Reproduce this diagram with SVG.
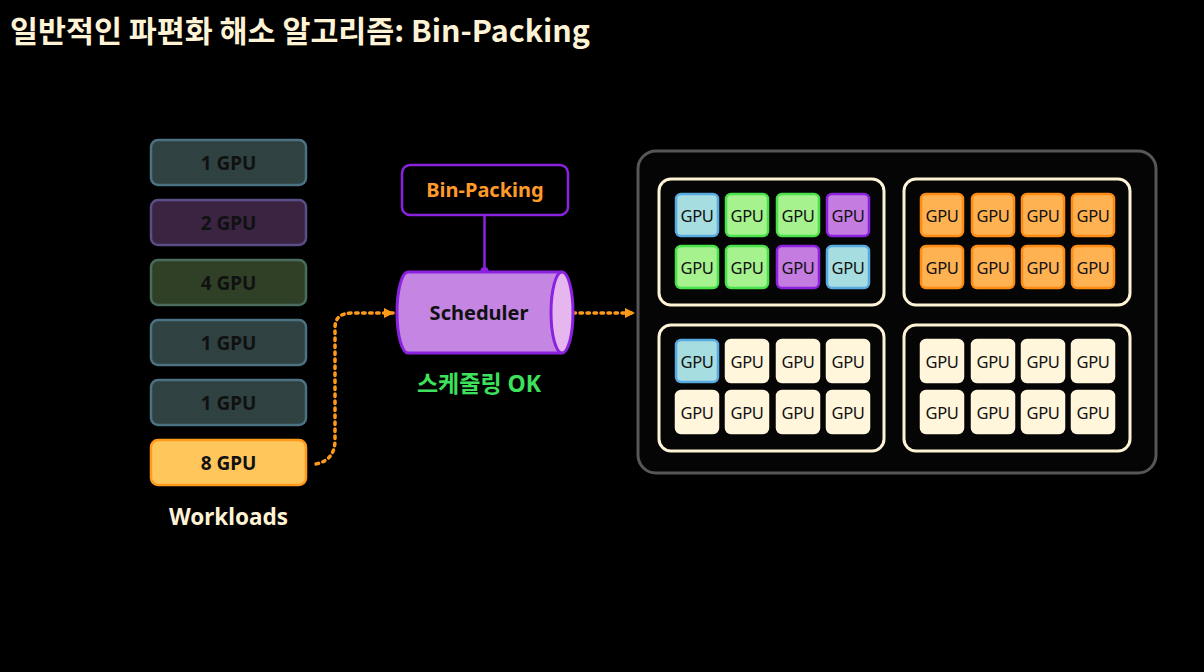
<svg xmlns="http://www.w3.org/2000/svg" width="1204" height="672" viewBox="0 0 1204 672">
<defs>
<style>
.t{font-family:"Noto Sans","Noto Sans CJK KR",sans-serif;font-weight:700;text-anchor:middle;dominant-baseline:central}
.wl{font-size:19px;fill:#111}
.g{font-family:"Noto Sans",sans-serif;font-size:16.5px;fill:#111;text-anchor:middle;dominant-baseline:central;letter-spacing:-0.3px}
.c{stroke-width:2.5}
.blue{fill:#a6dde0;stroke:#5aaae2}
.green{fill:#a6f28e;stroke:#48e24a}
.purple{fill:#c57ce0;stroke:#8a22e0}
.orange{fill:#ffb252;stroke:#ff8c12}
.cream{fill:#fff6dc;stroke:#fff6dc}
.srv{fill:#050505;stroke:#fff3d6;stroke-width:3}
.conn{fill:none;stroke:#ff9a1a;stroke-width:3.5;stroke-dasharray:2.5 4.5;stroke-linecap:round}
</style>
<marker id="ah" viewBox="0 0 10 10" refX="9" refY="5" markerWidth="10" markerHeight="10" markerUnits="userSpaceOnUse" orient="auto">
<path d="M0,0 L10,5 L0,10 z" fill="#ff9a1a"/>
</marker>
</defs>
<rect width="1204" height="672" fill="#000"/>
<text x="10" y="29" font-family="'Noto Sans CJK KR','Noto Sans',sans-serif" font-weight="700" font-size="30" fill="#fff3d6" dominant-baseline="central" textLength="580" lengthAdjust="spacingAndGlyphs">일반적인 파편화 해소 알고리즘: Bin-Packing</text>

<g id="workloads">
<g id="w1"><rect x="151" y="140" width="155" height="45" rx="7" fill="#2f4141" stroke="#4b7282" stroke-width="2.5"/><text class="t wl" x="228.5" y="162.5">1 GPU</text></g>
<g id="w2"><rect x="151" y="200" width="155" height="45" rx="7" fill="#3a2442" stroke="#5a4e86" stroke-width="2.5"/><text class="t wl" x="228.5" y="222.5">2 GPU</text></g>
<g id="w3"><rect x="151" y="260" width="155" height="45" rx="7" fill="#2f4026" stroke="#4a6c5c" stroke-width="2.5"/><text class="t wl" x="228.5" y="282.5">4 GPU</text></g>
<g id="w4"><rect x="151" y="320" width="155" height="45" rx="7" fill="#2f4141" stroke="#4b7282" stroke-width="2.5"/><text class="t wl" x="228.5" y="342.5">1 GPU</text></g>
<g id="w5"><rect x="151" y="380" width="155" height="45" rx="7" fill="#2f4141" stroke="#4b7282" stroke-width="2.5"/><text class="t wl" x="228.5" y="402.5">1 GPU</text></g>
<g id="w6"><rect x="151" y="440" width="155" height="45" rx="7" fill="#ffc65c" stroke="#ff9a1a" stroke-width="2.5"/><text class="t wl" x="228.5" y="462.5">8 GPU</text></g>
<text class="t" x="228.5" y="516" font-size="22.5" fill="#fff3d6">Workloads</text>
</g>

<g id="connectors">
<path class="conn" d="M316,464 Q335,460 335,440 L335,328 Q335,313 352,313 L393,313" marker-end="url(#ah)"/>
<path class="conn" d="M566,313 L634,313" marker-end="url(#ah)"/>
<line x1="484.5" y1="215" x2="484.5" y2="271" stroke="#8a22e0" stroke-width="2.5"/>
<circle cx="484.5" cy="271" r="4" fill="#8a22e0"/>
</g>

<g id="binpacking">
<rect x="402" y="165" width="166" height="50" rx="8" fill="#000" stroke="#8a22e0" stroke-width="2.5"/>
<text class="t" x="485" y="189" font-size="20" fill="#ff9a2a">Bin-Packing</text>
</g>

<g id="scheduler">
<path d="M562,272 L408,272 A11,40.5 0 0 0 408,353 L562,353" fill="#c486e2" stroke="#8a22e0" stroke-width="3"/>
<ellipse cx="562" cy="312.5" rx="11" ry="40.5" fill="#e6b6ee" stroke="#8a22e0" stroke-width="3"/>
<text class="t" x="479" y="312" font-size="20" fill="#111">Scheduler</text>
<text class="t" x="479" y="383" font-size="23" fill="#3ee05c" font-family="'Noto Sans CJK KR',sans-serif">스케줄링 OK</text>
</g>

<g id="cluster">
<rect x="638" y="151" width="518" height="322" rx="18" fill="#050505" stroke="#575757" stroke-width="3"/>
</g>

<g id="node1">
<rect class="srv" x="659" y="179" width="225" height="126" rx="12"/>
<rect class="c blue" x="676" y="194" width="42" height="42" rx="5"/><text class="g" x="697" y="215">GPU</text>
<rect class="c green" x="726" y="194" width="42" height="42" rx="5"/><text class="g" x="747" y="215">GPU</text>
<rect class="c green" x="777" y="194" width="42" height="42" rx="5"/><text class="g" x="798" y="215">GPU</text>
<rect class="c purple" x="827" y="194" width="42" height="42" rx="5"/><text class="g" x="848" y="215">GPU</text>
<rect class="c green" x="676" y="246" width="42" height="42" rx="5"/><text class="g" x="697" y="267">GPU</text>
<rect class="c green" x="726" y="246" width="42" height="42" rx="5"/><text class="g" x="747" y="267">GPU</text>
<rect class="c purple" x="777" y="246" width="42" height="42" rx="5"/><text class="g" x="798" y="267">GPU</text>
<rect class="c blue" x="827" y="246" width="42" height="42" rx="5"/><text class="g" x="848" y="267">GPU</text>
</g>

<g id="node2">
<rect class="srv" x="904" y="179" width="226" height="126" rx="12"/>
<rect class="c orange" x="921" y="194" width="42" height="42" rx="5"/><text class="g" x="942" y="215">GPU</text>
<rect class="c orange" x="972" y="194" width="42" height="42" rx="5"/><text class="g" x="993" y="215">GPU</text>
<rect class="c orange" x="1022" y="194" width="42" height="42" rx="5"/><text class="g" x="1043" y="215">GPU</text>
<rect class="c orange" x="1072" y="194" width="42" height="42" rx="5"/><text class="g" x="1093" y="215">GPU</text>
<rect class="c orange" x="921" y="246" width="42" height="42" rx="5"/><text class="g" x="942" y="267">GPU</text>
<rect class="c orange" x="972" y="246" width="42" height="42" rx="5"/><text class="g" x="993" y="267">GPU</text>
<rect class="c orange" x="1022" y="246" width="42" height="42" rx="5"/><text class="g" x="1043" y="267">GPU</text>
<rect class="c orange" x="1072" y="246" width="42" height="42" rx="5"/><text class="g" x="1093" y="267">GPU</text>
</g>

<g id="node3">
<rect class="srv" x="659" y="325" width="225" height="126" rx="12"/>
<rect class="c blue" x="676" y="340" width="42" height="42" rx="5"/><text class="g" x="697" y="361">GPU</text>
<rect class="c cream" x="726" y="340" width="42" height="42" rx="5"/><text class="g" x="747" y="361">GPU</text>
<rect class="c cream" x="777" y="340" width="42" height="42" rx="5"/><text class="g" x="798" y="361">GPU</text>
<rect class="c cream" x="827" y="340" width="42" height="42" rx="5"/><text class="g" x="848" y="361">GPU</text>
<rect class="c cream" x="676" y="391" width="42" height="42" rx="5"/><text class="g" x="697" y="412">GPU</text>
<rect class="c cream" x="726" y="391" width="42" height="42" rx="5"/><text class="g" x="747" y="412">GPU</text>
<rect class="c cream" x="777" y="391" width="42" height="42" rx="5"/><text class="g" x="798" y="412">GPU</text>
<rect class="c cream" x="827" y="391" width="42" height="42" rx="5"/><text class="g" x="848" y="412">GPU</text>
</g>

<g id="node4">
<rect class="srv" x="904" y="325" width="226" height="126" rx="12"/>
<rect class="c cream" x="921" y="340" width="42" height="42" rx="5"/><text class="g" x="942" y="361">GPU</text>
<rect class="c cream" x="972" y="340" width="42" height="42" rx="5"/><text class="g" x="993" y="361">GPU</text>
<rect class="c cream" x="1022" y="340" width="42" height="42" rx="5"/><text class="g" x="1043" y="361">GPU</text>
<rect class="c cream" x="1072" y="340" width="42" height="42" rx="5"/><text class="g" x="1093" y="361">GPU</text>
<rect class="c cream" x="921" y="391" width="42" height="42" rx="5"/><text class="g" x="942" y="412">GPU</text>
<rect class="c cream" x="972" y="391" width="42" height="42" rx="5"/><text class="g" x="993" y="412">GPU</text>
<rect class="c cream" x="1022" y="391" width="42" height="42" rx="5"/><text class="g" x="1043" y="412">GPU</text>
<rect class="c cream" x="1072" y="391" width="42" height="42" rx="5"/><text class="g" x="1093" y="412">GPU</text>
</g>
</svg>
